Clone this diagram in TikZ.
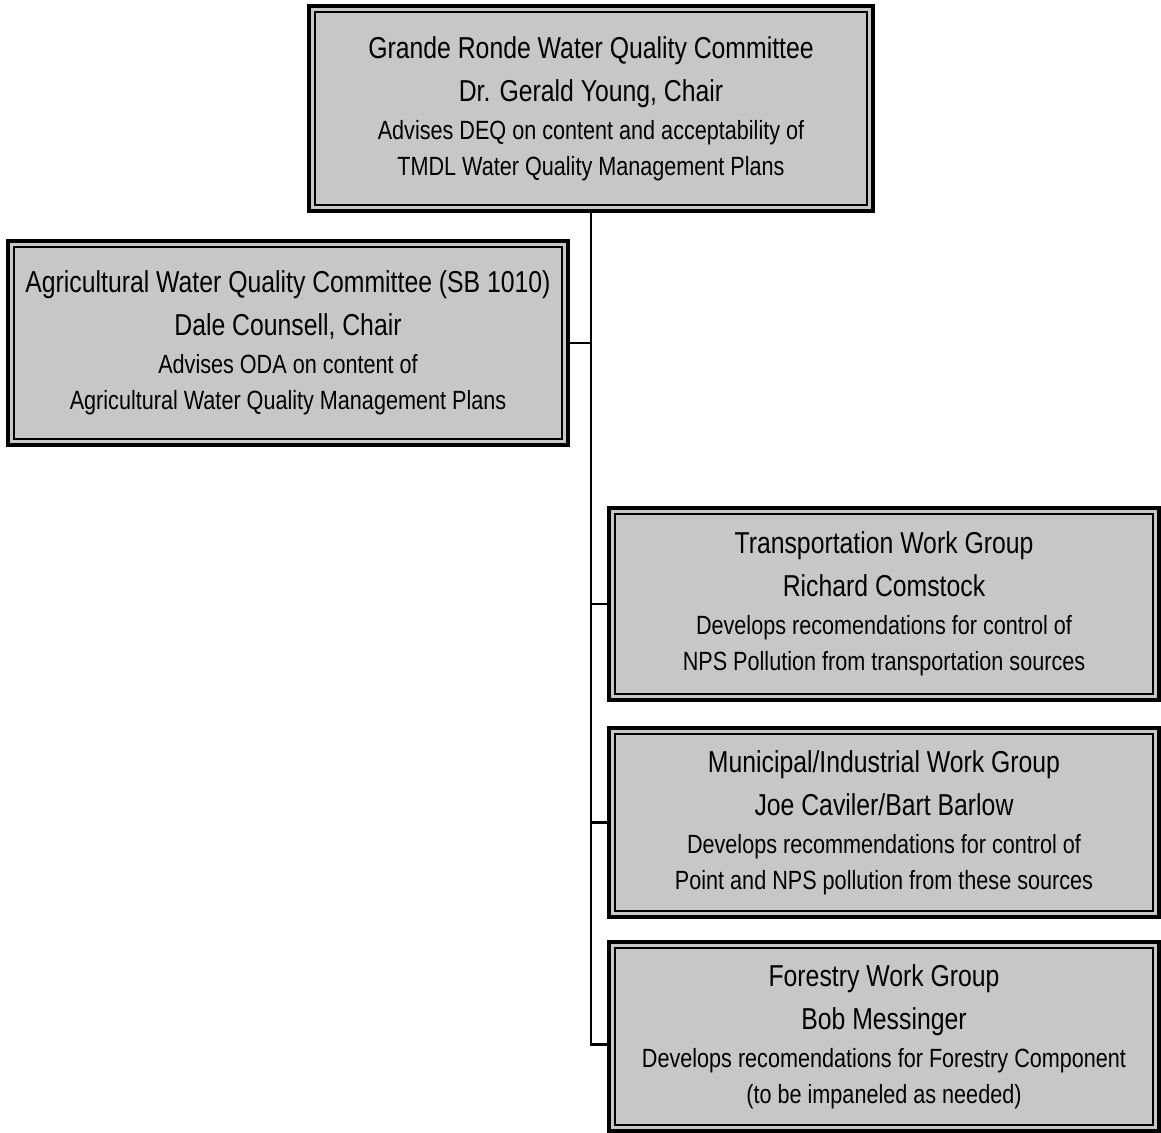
\documentclass[tikz,border=0pt]{standalone}
\usepackage{xcolor}
\usepackage{fontspec}
\setmainfont[FakeStretch=0.82]{Liberation Sans}

\newcommand\pxu{0.02cm}
\newcommand\hd[1]{{\fontsize{17.2}{20.5}\selectfont #1}}

\begin{document}
\begin{tikzpicture}[x=0.02cm, y=-0.02cm,
    grp/.style={draw, line width=2.3pt, fill=black!22, inner sep=0pt, outer sep=0pt,
      align=center, font=\fontsize{15}{20.5}\selectfont},
    conn/.style={line width=1.5pt}]
      % \draw[help lines, gray!50, very thin] (0,0) grid[step=100] (1161,1133);
      \useasboundingbox (0,0) rectangle (1161,1133);

      \node[grp, minimum width=564*\pxu, minimum height=205*\pxu] (wqc) at (591,108.5)
        {\hd{Grande Ronde Water Quality Committee}\\[4pt]
         \hd{Dr. Gerald Young, Chair}\\[1.1pt]
         Advises DEQ on content and acceptability of\\
         TMDL Water Quality Management Plans};
      \node[grp, minimum width=560*\pxu, minimum height=204*\pxu] (agc) at (288,343)
        {\hd{Agricultural Water Quality Committee (SB 1010)}\\[4pt]
         \hd{Dale Counsell, Chair}\\[1.1pt]
         Advises ODA on content of\\
         Agricultural Water Quality Management Plans};
      \node[grp, minimum width=550*\pxu, minimum height=192*\pxu] (twg) at (884,604)
        {\hd{Transportation Work Group}\\[4pt]
         \hd{Richard Comstock}\\[1.1pt]
         Develops recomendations for control of\\
         NPS Pollution from transportation sources};
      \node[grp, minimum width=550*\pxu, minimum height=189*\pxu] (mwg) at (884,822.5)
        {\hd{Municipal/Industrial Work Group}\\[4pt]
         \hd{Joe Caviler/Bart Barlow}\\[1.1pt]
         Develops recommendations for control of\\
         Point and NPS pollution from these sources};
      \node[grp, minimum width=550*\pxu, minimum height=189*\pxu] (fwg) at (884,1036.5)
        {\hd{Forestry Work Group}\\[4pt]
         \hd{Bob Messinger}\\[1.1pt]
         Develops recomendations for Forestry Component\\
         (to be impaneled as needed)};

      % thin inner frames
      \foreach \n in {wqc,agc,twg,mwg,fwg}
        \draw[line width=0.8pt] ([shift={(6,6)}]\n.north west) rectangle ([shift={(-6,-6)}]\n.south east);

      \draw[conn] (wqc.south) |- ([yshift=-8*\pxu]fwg.west);
      \draw[conn] (agc.east) -- (agc.east -| wqc.south);
      \foreach \n in {twg,mwg}
        \draw[conn] (\n.west) -- (\n.west -| wqc.south);
    \end{tikzpicture}
\end{document}
